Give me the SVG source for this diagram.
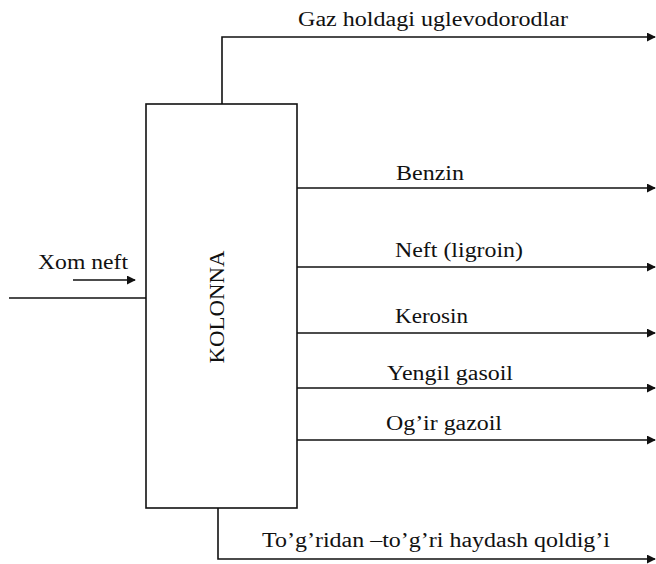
<svg xmlns="http://www.w3.org/2000/svg" width="656" height="564" viewBox="0 0 656 564">
  <style>
    .ln { fill: none; stroke: #111; stroke-width: 1.6; }
    .lbl { font-family: "Liberation Serif", "DejaVu Serif", "Times New Roman", serif; font-size: 20px; fill: #111; }
    .col { font-family: "Liberation Serif", "DejaVu Serif", "Times New Roman", serif; font-size: 22px; fill: #111; }
  </style>
  <defs>
    <marker id="arr" viewBox="0 0 10 10" refX="9" refY="5" markerWidth="9" markerHeight="9" markerUnits="userSpaceOnUse" orient="auto">
      <path d="M0,0 L10,5 L0,10 Z" fill="#111"/>
    </marker>
  </defs>
  <rect width="656" height="564" fill="#fff"/>

  <g id="kolonna">
    <rect x="146" y="104" width="151" height="404" class="ln"/>
    <text class="col" transform="translate(224,307) rotate(-90)" text-anchor="middle" textLength="113" lengthAdjust="spacingAndGlyphs">KOLONNA</text>
  </g>

  <g id="xom-neft">
    <text class="lbl" x="38" y="269" textLength="90" lengthAdjust="spacingAndGlyphs">Xom neft</text>
  </g>

  <g id="labels">
    <text class="lbl" x="298" y="26" textLength="270" lengthAdjust="spacingAndGlyphs">Gaz holdagi uglevodorodlar</text>
    <text class="lbl" x="396" y="180" textLength="68" lengthAdjust="spacingAndGlyphs">Benzin</text>
    <text class="lbl" x="395" y="257" textLength="128" lengthAdjust="spacingAndGlyphs">Neft (ligroin)</text>
    <text class="lbl" x="395" y="323" textLength="73" lengthAdjust="spacingAndGlyphs">Kerosin</text>
    <text class="lbl" x="387" y="380" textLength="126" lengthAdjust="spacingAndGlyphs">Yengil gasoil</text>
    <text class="lbl" x="386" y="430" textLength="116" lengthAdjust="spacingAndGlyphs">Og’ir gazoil</text>
    <text class="lbl" x="262" y="547" textLength="348" lengthAdjust="spacingAndGlyphs">To’g’ridan –to’g’ri haydash qoldig’i</text>
  </g>

  <g id="connectors">
    <path class="ln" d="M9,298 H146"/>
    <path class="ln" d="M73,280 H135" marker-end="url(#arr)"/>
    <path class="ln" d="M222,104 V37 H655" marker-end="url(#arr)"/>
    <path class="ln" d="M297,188 H655" marker-end="url(#arr)"/>
    <path class="ln" d="M297,267 H655" marker-end="url(#arr)"/>
    <path class="ln" d="M297,333 H655" marker-end="url(#arr)"/>
    <path class="ln" d="M297,388 H655" marker-end="url(#arr)"/>
    <path class="ln" d="M297,440 H655" marker-end="url(#arr)"/>
    <path class="ln" d="M218,508 V559 H655" marker-end="url(#arr)"/>
  </g>
</svg>
